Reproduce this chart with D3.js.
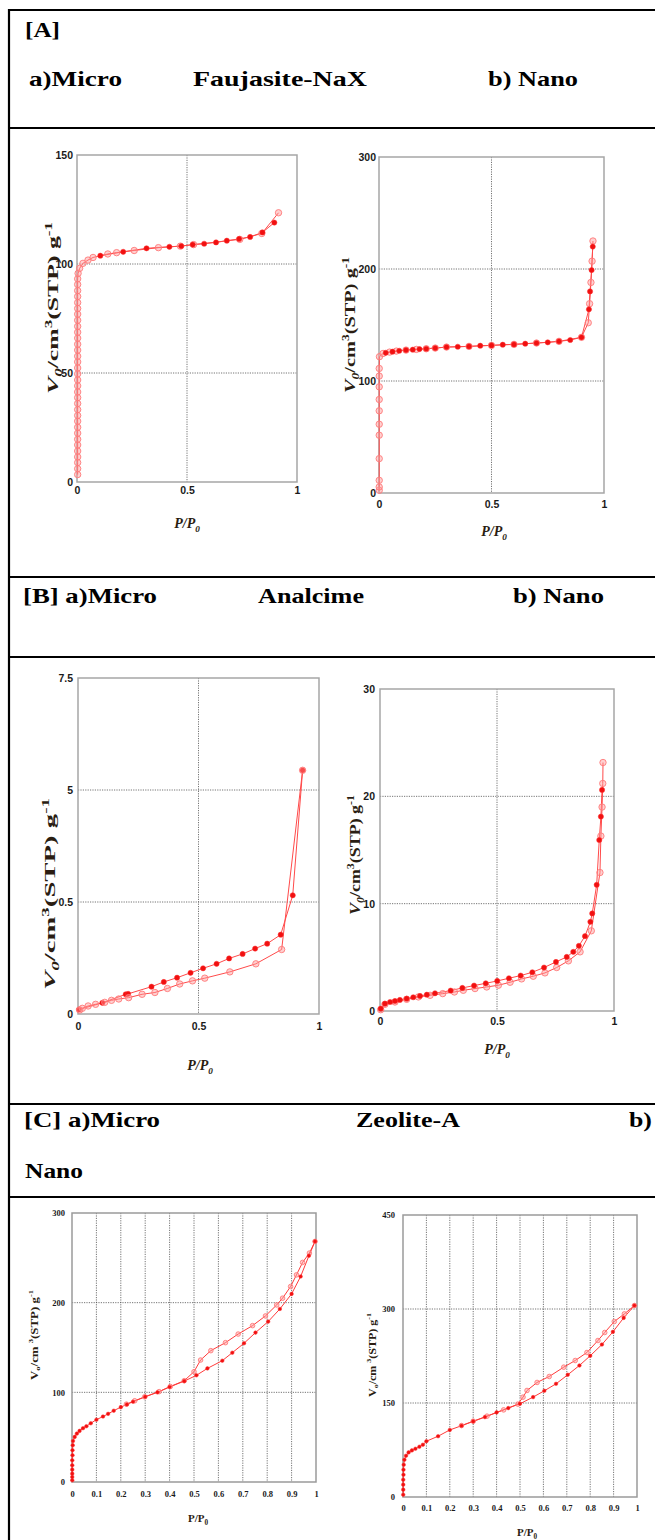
<!DOCTYPE html>
<html>
<head>
<meta charset="utf-8">
<script src="https://cdn.jsdelivr.net/npm/d3@7"></script>
<style>
  body { margin: 0; background: #fff; }
  svg { display: block; }
</style>
</head>
<body>
<svg id="fig" width="655" height="1540"></svg>
<script>
// ---------------- data ----------------
// Shared x ticks
const xTicksCoarse = [0, 0.5, 1];
const xLabelsCoarse = ["0", "0.5", "1"];
const xTicksFine = [0, 0.1, 0.2, 0.3, 0.4, 0.5, 0.6, 0.7, 0.8, 0.9, 1];
const xLabelsFine = ["0", "0.1", "0.2", "0.3", "0.4", "0.5", "0.6", "0.7", "0.8", "0.9", "1"];

// Faujasite-NaX, micro (cm3 STP / g vs P/P0)
const fauMicroYTicks = [0, 50, 100, 150];
const fauMicroYLabels = ["0", "50", "100", "150"];
const fauMicroOpenP = [0.003, 0.003, 0.003, 0.003, 0.003, 0.003, 0.003, 0.003, 0.003, 0.003,
  0.003, 0.003, 0.003, 0.003, 0.003, 0.003, 0.003, 0.003, 0.003, 0.003,
  0.003, 0.003, 0.003, 0.003, 0.003, 0.003, 0.003, 0.003, 0.003, 0.003,
  0.003, 0.003, 0.003, 0.003,
  0.005, 0.012, 0.027, 0.05, 0.073, 0.14, 0.18, 0.26, 0.37, 0.47, 0.53, 0.74, 0.84, 0.916];
const fauMicroOpenV = [3.4, 6.1, 8.9, 11.5, 14.2, 17.0, 19.6, 22.4, 25.1, 27.9,
  30.5, 33.2, 36.0, 38.7, 41.3, 44.1, 46.8, 49.6, 52.3, 55.1,
  57.7, 60.5, 63.2, 66.0, 68.7, 71.4, 74.2, 77.0, 79.6, 82.3,
  85.1, 87.8, 90.6, 93.2,
  95.7, 98.0, 100.3, 101.8, 103.0, 104.6, 105.2, 106.2, 107.5, 108.2, 108.9, 111.3, 114.0, 123.5];
const fauMicroFillP = [0.106, 0.21, 0.316, 0.42, 0.474, 0.526, 0.578, 0.632, 0.681, 0.737, 0.787, 0.843, 0.897];
const fauMicroFillV = [103.8, 105.6, 107.2, 107.9, 108.2, 108.9, 109.3, 109.9, 110.7, 111.5, 112.4, 114.5, 119.0];

// Faujasite-NaX, nano
const fauNanoYTicks = [0, 100, 200, 300];
const fauNanoYLabels = ["0", "100", "200", "300"];
const fauNanoOpenP = [0.001, 0.001, 0.001, 0.001, 0.001, 0.001, 0.001, 0.001, 0.001, 0.001, 0.001, 0.002,
  0.018, 0.047, 0.077, 0.12, 0.166, 0.21, 0.25, 0.3, 0.4, 0.5, 0.6, 0.7, 0.8, 0.9,
  0.93, 0.936, 0.942, 0.947, 0.951];
const fauNanoOpenV = [2.4, 5.4, 11.3, 30.7, 51.6, 61.4, 73.4, 83.5, 94.8, 104.4, 111.2, 121.7,
  124.6, 125.8, 126.7, 127.6, 128.2, 128.8, 129.4, 130.3, 130.9, 131.8, 132.7, 133.9, 135.4, 139.0,
  152, 169, 188, 207, 225];
const fauNanoFillP = [0.03, 0.06, 0.09, 0.12, 0.15, 0.18, 0.21, 0.25, 0.3, 0.35, 0.4, 0.45, 0.5,
  0.55, 0.6, 0.65, 0.7, 0.75, 0.8, 0.85, 0.9, 0.933, 0.938, 0.945, 0.95];
const fauNanoFillV = [125.2, 126.2, 127.0, 127.6, 128.0, 128.5, 128.8, 129.4, 130.3, 130.6, 130.9, 131.5, 131.8,
  132.4, 132.7, 133.3, 133.9, 134.5, 135.4, 136.6, 139.0, 164, 180, 199, 220];

// Analcime, micro
const anaMicroYTicks = [0, 2.5, 5, 7.5];
const anaMicroYLabels = ["0", "0.5", "5", "7.5"];
const anaMicroOpenP = [0.932, 0.845, 0.738, 0.63, 0.526, 0.475, 0.422, 0.371, 0.319, 0.266,
  0.21, 0.169, 0.139, 0.111, 0.073, 0.042, 0.018, 0.007];
const anaMicroOpenV = [5.44, 1.44, 1.12, 0.94, 0.80, 0.74, 0.67, 0.57, 0.48, 0.44,
  0.365, 0.335, 0.305, 0.26, 0.216, 0.179, 0.127, 0.09];
const anaMicroFillP = [0.004, 0.101, 0.198, 0.208, 0.305, 0.356, 0.411, 0.467, 0.519, 0.575,
  0.627, 0.683, 0.735, 0.785, 0.841, 0.891, 0.932];
const anaMicroFillV = [0.10, 0.25, 0.44, 0.45, 0.61, 0.715, 0.81, 0.92, 1.02, 1.12,
  1.24, 1.34, 1.46, 1.57, 1.77, 2.65, 5.44];

// Analcime, nano
const anaNanoYTicks = [0, 10, 20, 30];
const anaNanoYLabels = ["0", "10", "20", "30"];
const anaNanoOpenP = [0.953, 0.952, 0.949, 0.944, 0.94, 0.903, 0.855, 0.805, 0.755, 0.705,
  0.655, 0.605, 0.556, 0.506, 0.456, 0.406, 0.356, 0.318, 0.268, 0.214,
  0.164, 0.114, 0.064, 0.021, 0.003];
const anaNanoOpenV = [23.15, 21.2, 19.0, 16.3, 12.9, 7.47, 5.51, 4.67, 4.05, 3.55,
  3.24, 2.99, 2.68, 2.40, 2.24, 2.09, 1.93, 1.77, 1.62, 1.46,
  1.31, 1.09, 0.84, 0.62, 0.12];
const anaNanoFillP = [0.003, 0.021, 0.043, 0.064, 0.085, 0.114, 0.142, 0.171, 0.2, 0.235,
  0.302, 0.352, 0.402, 0.452, 0.501, 0.551, 0.601, 0.651, 0.701, 0.752,
  0.798, 0.826, 0.85, 0.876, 0.899, 0.907, 0.926, 0.937, 0.944, 0.949];
const anaNanoFillV = [0.22, 0.68, 0.84, 0.93, 1.03, 1.15, 1.28, 1.40, 1.52, 1.65,
  1.90, 2.15, 2.37, 2.58, 2.80, 3.05, 3.30, 3.61, 4.05, 4.57,
  5.04, 5.51, 6.07, 6.97, 8.31, 9.09, 11.76, 15.93, 18.11, 20.6];

// Zeolite-A, micro
const zeoMicroYTicks = [0, 100, 200, 300];
const zeoMicroYLabels = ["0", "100", "200", "300"];
const zeoMicroFillP = [0.001, 0.001, 0.001, 0.001, 0.001, 0.001, 0.002, 0.002, 0.003,
  0.004, 0.011, 0.02, 0.031, 0.045, 0.059, 0.077, 0.1, 0.127, 0.148, 0.171, 0.2, 0.225, 0.25,
  0.3, 0.35, 0.4, 0.46, 0.51, 0.555, 0.616, 0.657, 0.705, 0.752, 0.804, 0.852, 0.9, 0.937, 0.971, 0.996];
const zeoMicroFillV = [1.9, 5.6, 9.3, 13.8, 18.6, 24.2, 29.8, 35.4, 41.0,
  45.8, 50.3, 54.0, 57.0, 60.0, 62.2, 65.5, 69.5, 73.0, 76.0, 79.5, 83.5, 86.5, 89.5,
  95.0, 100.0, 106.0, 112.5, 119.0, 126.7, 135.3, 144.2, 154.7, 166.6, 178.9, 193.0, 209.8, 229.2, 252.3, 268.3];
const zeoMicroOpenP = [0.996, 0.973, 0.945, 0.92, 0.896, 0.863, 0.839, 0.793, 0.74, 0.681,
  0.629, 0.569, 0.527, 0.5, 0.46, 0.403, 0.357, 0.298, 0.257, 0.223];
const zeoMicroOpenV = [268.3, 255.3, 244.9, 231.0, 218.0, 205.0, 197.5, 185.2, 174.4, 165.0,
  155.4, 146.5, 136.0, 123.0, 113.0, 106.5, 100.8, 95.0, 90.6, 86.8];

// Zeolite-A, nano
const zeoNanoYTicks = [0, 150, 300, 450];
const zeoNanoYLabels = ["0", "150", "300", "450"];
const zeoNanoFillP = [0.001, 0.001, 0.001, 0.001, 0.002, 0.002, 0.003,
  0.006, 0.013, 0.024, 0.038, 0.053, 0.07, 0.085, 0.1, 0.15, 0.2, 0.25, 0.3, 0.35, 0.4, 0.45, 0.5,
  0.556, 0.604, 0.654, 0.704, 0.754, 0.8, 0.85, 0.897, 0.943, 0.989];
const zeoNanoFillV = [3.7, 11.7, 19.7, 27.6, 35.6, 43.6, 51.5,
  59.5, 65.9, 71.2, 74.4, 77.0, 80.2, 83.4, 89.0, 97.0, 107.0, 113.7, 120.6, 127.5, 135.0, 141.9, 148.8,
  159.4, 169.5, 180.6, 195.0, 209.9, 225.3, 243.3, 263.5, 285.8, 305.5];
const zeoNanoOpenP = [0.989, 0.946, 0.903, 0.862, 0.833, 0.786, 0.736, 0.687, 0.625, 0.573,
  0.53, 0.513, 0.491, 0.43, 0.359, 0.3, 0.25];
const zeoNanoOpenV = [305.5, 292.2, 280.0, 262.5, 249.7, 230.6, 217.8, 207.2, 192.3, 182.8,
  170.0, 159.4, 148.2, 139.0, 129.0, 121.0, 114.0];

// Table captions
const headerLabels = ["[A]", "a)Micro", "Faujasite-NaX", "b) Nano",
  "[B] a)Micro", "Analcime", "b) Nano",
  "[C] a)Micro", "Zeolite-A", "b)", "Nano"];

// ---------------- drawing ----------------
const SERIF = "'Liberation Serif','Times New Roman',Times,serif";
const SANS = "'Liberation Sans',Arial,Helvetica,sans-serif";
const svg = d3.select("#fig");

// table rules
const tableRows = [10, 128, 577, 657, 1104, 1197];
const table = svg.append("g").attr("class", "table");
table.selectAll("line.row").data(tableRows).join("line")
  .attr("class", "row")
  .attr("x1", 8).attr("x2", 655)
  .attr("y1", d => d).attr("y2", d => d)
  .attr("stroke", "#000").attr("stroke-width", 2.2);
table.append("line")
  .attr("x1", 9).attr("x2", 9).attr("y1", 9).attr("y2", 1540)
  .attr("stroke", "#000").attr("stroke-width", 2.2);

// caption placement: [x, baseline, width]
const headerPlace = [
  [25, 37, 35], [29, 86, 93], [193, 86, 174], [488, 86, 90],
  [23, 603, 134], [258, 603, 106], [513, 603, 91],
  [24, 1127, 136], [356, 1127, 104], [629, 1127, 23], [25, 1178, 58]
];
svg.append("g").selectAll("text").data(headerLabels).join("text")
  .attr("x", (d, i) => headerPlace[i][0])
  .attr("y", (d, i) => headerPlace[i][1])
  .attr("textLength", (d, i) => headerPlace[i][2])
  .attr("lengthAdjust", "spacingAndGlyphs")
  .attr("font-family", SERIF).attr("font-weight", "bold").attr("font-size", 21)
  .attr("fill", "#000")
  .text(d => d);

// text with sub/superscripts
function richText(sel, parts, size) {
  let cur = 0;
  parts.forEach(p => {
    const ts = sel.append("tspan").text(p.t);
    const target = p.shift === "sub" ? 0.28 * size : p.shift === "sup" ? -0.42 * size : 0;
    ts.attr("dy", target - cur);
    cur = target;
    if (p.shift) ts.attr("font-size", size * 0.66);
    if (p.italic) ts.attr("font-style", "italic");
  });
}

function drawChart(cfg) {
  const b = cfg.box;
  const g = svg.append("g");
  const x = d3.scaleLinear().domain([0, 1]).range([b.l, b.r]);
  const y = d3.scaleLinear().domain(cfg.yDomain).range([b.b, b.t]);

  // dotted grid
  g.selectAll("line.gx").data(cfg.xGrid).join("line").attr("class", "gx")
    .attr("x1", d => x(d)).attr("x2", d => x(d)).attr("y1", b.t).attr("y2", b.b)
    .attr("stroke", "#505050").attr("stroke-width", 0.8).attr("stroke-dasharray", "1.2,1.2");
  g.selectAll("line.gy").data(cfg.yGrid).join("line").attr("class", "gy")
    .attr("x1", b.l).attr("x2", b.r).attr("y1", d => y(d)).attr("y2", d => y(d))
    .attr("stroke", "#505050").attr("stroke-width", 0.8).attr("stroke-dasharray", "1.2,1.2");

  // frame
  g.append("rect").attr("x", b.l).attr("y", b.t)
    .attr("width", b.r - b.l).attr("height", b.b - b.t)
    .attr("fill", "none").attr("stroke", cfg.frame).attr("stroke-width", 1.5);

  // axes
  const ya = g.append("g").attr("transform", `translate(${b.l},0)`)
    .call(d3.axisLeft(y).tickValues(cfg.yTicks).tickFormat((d, i) => cfg.yLabels[i])
      .tickSize(0).tickPadding(cfg.yPad));
  ya.select(".domain").remove();
  ya.attr("font-family", cfg.tickFont).attr("font-size", cfg.tickSize);
  ya.selectAll("text").attr("font-weight", "bold").attr("fill", "#1a1a1a");

  const xa = g.append("g").attr("transform", `translate(0,${b.b})`)
    .call(d3.axisBottom(x).tickValues(cfg.xTicks).tickFormat((d, i) => cfg.xLabels[i])
      .tickSize(0).tickPadding(cfg.xPad));
  xa.select(".domain").remove();
  xa.attr("font-family", cfg.tickFont).attr("font-size", cfg.tickSize);
  xa.selectAll("text").attr("font-weight", "bold").attr("fill", "#1a1a1a");

  // isotherm branches
  const line = d3.line().x(d => x(d.p)).y(d => y(d.v));
  const open = cfg.openP.map((p, i) => ({ p, v: cfg.openV[i] }));
  const fill = cfg.fillP.map((p, i) => ({ p, v: cfg.fillV[i] }));
  [open, fill].forEach(s => g.append("path").datum(s).attr("d", line)
    .attr("fill", "none").attr("stroke", cfg.lineColor).attr("stroke-width", cfg.lineWidth));

  const drawOpen = () => g.append("g").selectAll("circle").data(open).join("circle")
    .attr("cx", d => x(d.p)).attr("cy", d => y(d.v)).attr("r", cfg.openR)
    .attr("fill", "rgba(255,150,150,0.45)").attr("stroke", "#ff7b7b").attr("stroke-width", 0.9);
  const drawFill = () => g.append("g").selectAll("circle").data(fill).join("circle")
    .attr("cx", d => x(d.p)).attr("cy", d => y(d.v)).attr("r", cfg.fillR)
    .attr("fill", "#f01010").attr("stroke", "#ff3030").attr("stroke-width", 0.5);
  if (cfg.openOnTop) { drawFill(); drawOpen(); } else { drawOpen(); drawFill(); }

  // y axis title
  const yl = g.append("text").attr("text-anchor", "middle")
    .attr("font-family", SERIF).attr("font-weight", "bold")
    .attr("font-size", cfg.yTitleSize).attr("fill", "#2a1d12");
  richText(yl, cfg.yTitle, cfg.yTitleSize);
  const natural = yl.node().getComputedTextLength();
  const sx = cfg.yTitleLen / natural;
  yl.attr("transform",
    `translate(${cfg.yTitleAt[0] + cfg.yTitleSize * 0.35},${cfg.yTitleAt[1]}) rotate(-90) scale(${sx},1)`);

  // x axis title
  const xl = g.append("text").attr("text-anchor", "middle")
    .attr("x", cfg.xTitleAt[0]).attr("y", cfg.xTitleAt[1])
    .attr("font-family", SERIF).attr("font-weight", "bold")
    .attr("font-size", cfg.xTitleSize).attr("fill", "#2a1d12");
  richText(xl, cfg.xTitle, cfg.xTitleSize);
}

const yTitleItalic = [
  { t: "V", italic: true }, { t: "0", italic: true, shift: "sub" }, { t: "/cm" },
  { t: "3", shift: "sup" }, { t: "(STP) g" }, { t: "-1", shift: "sup" }
];
const xTitleItalic = [{ t: "P/P", italic: true }, { t: "0", italic: true, shift: "sub" }];
const yTitlePlain = [
  { t: "V" }, { t: "o", shift: "sub" }, { t: "/cm " },
  { t: "3", shift: "sup" }, { t: "(STP) g" }, { t: "-1", shift: "sup" }
];
const xTitlePlain = [{ t: "P/P" }, { t: "0", shift: "sub" }];

const styleAB = {
  frame: "#a6a6a6", tickFont: SANS, tickSize: 10.5, lineColor: "#ff4a4a", lineWidth: 1,
  openR: 3.2, fillR: 2.6, yTitle: yTitleItalic, yTitleSize: 15, xTitle: xTitleItalic, xTitleSize: 14,
  xTicks: xTicksCoarse, xLabels: xLabelsCoarse, xGrid: [0.5]
};
const styleC = {
  frame: "#9a9a9a", tickFont: SERIF, tickSize: 8.5, lineColor: "#ff3b3b", lineWidth: 1,
  openR: 2.3, fillR: 1.8, yTitle: yTitlePlain, yTitleSize: 10, xTitle: xTitlePlain, xTitleSize: 11,
  xTicks: xTicksFine, xLabels: xLabelsFine, xGrid: [0.1, 0.2, 0.3, 0.4, 0.5, 0.6, 0.7, 0.8, 0.9]
};

drawChart(Object.assign({}, styleAB, {
  box: { l: 77, t: 155, r: 297, b: 482 }, yDomain: [0, 150],
  yTicks: fauMicroYTicks, yLabels: fauMicroYLabels, yGrid: [50, 100], yPad: 4, xPad: 5,
  openP: fauMicroOpenP, openV: fauMicroOpenV, fillP: fauMicroFillP, fillV: fauMicroFillV,
  yTitleAt: [53, 308], yTitleLen: 172, xTitleAt: [187, 528]
}));
drawChart(Object.assign({}, styleAB, {
  box: { l: 379, t: 157, r: 604, b: 493 }, yDomain: [0, 300],
  yTicks: fauNanoYTicks, yLabels: fauNanoYLabels, yGrid: [100, 200], yPad: 3, xPad: 8,
  openP: fauNanoOpenP, openV: fauNanoOpenV, fillP: fauNanoFillP, fillV: fauNanoFillV,
  yTitleAt: [350, 325], yTitleLen: 136, xTitleAt: [494, 536]
}));
drawChart(Object.assign({}, styleAB, {
  box: { l: 78, t: 678, r: 319, b: 1014 }, yDomain: [0, 7.5],
  yTicks: anaMicroYTicks, yLabels: anaMicroYLabels, yGrid: [2.5, 5], yPad: 5, xPad: 9,
  openP: anaMicroOpenP, openV: anaMicroOpenV, fillP: anaMicroFillP, fillV: anaMicroFillV,
  openOnTop: true,
  yTitleAt: [50, 894], yTitleLen: 192, xTitleAt: [200, 1070]
}));
drawChart(Object.assign({}, styleAB, {
  box: { l: 380, t: 689, r: 614, b: 1011 }, yDomain: [0, 30],
  yTicks: anaNanoYTicks, yLabels: anaNanoYLabels, yGrid: [10, 20], yPad: 5, xPad: 7,
  openP: anaNanoOpenP, openV: anaNanoOpenV, fillP: anaNanoFillP, fillV: anaNanoFillV,
  yTitleAt: [355, 855], yTitleLen: 120, xTitleAt: [497, 1054]
}));
drawChart(Object.assign({}, styleC, {
  box: { l: 72, t: 1213, r: 316, b: 1482 }, yDomain: [0, 300],
  yTicks: zeoMicroYTicks, yLabels: zeoMicroYLabels, yGrid: [100, 200], yPad: 7, xPad: 9,
  openP: zeoMicroOpenP, openV: zeoMicroOpenV, fillP: zeoMicroFillP, fillV: zeoMicroFillV,
  yTitleAt: [34, 1335], yTitleLen: 90, xTitleAt: [198, 1522]
}));
drawChart(Object.assign({}, styleC, {
  box: { l: 403, t: 1215, r: 637, b: 1497 }, yDomain: [0, 450],
  yTicks: zeoNanoYTicks, yLabels: zeoNanoYLabels, yGrid: [150, 300], yPad: 8, xPad: 8,
  openP: zeoNanoOpenP, openV: zeoNanoOpenV, fillP: zeoNanoFillP, fillV: zeoNanoFillV,
  yTitleAt: [372, 1355], yTitleLen: 84, xTitleAt: [527, 1536]
}));
</script>
</body>
</html>
